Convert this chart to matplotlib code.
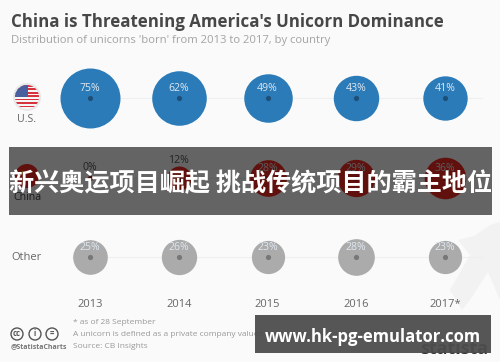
import numpy as np
import matplotlib
matplotlib.use("Agg")
import matplotlib.pyplot as plt
from matplotlib.patches import Circle, Rectangle, Polygon

years = ["2013", "2014", "2015", "2016", "2017*"]
countries = ["U.S.", "China", "Other"]
us = [75, 62, 49, 43, 41]
china = [0, 12, 28, 29, 36]
other = [25, 26, 23, 28, 23]

W, H = 500, 362
BG = "#fafafa"
BLUE = "#2b7bb9"
RED = "#f02c22"
GREY = "#ababab"
FONT = ["Open Sans", "DejaVu Sans"]
CJK = ["Noto Sans CJK SC", "DejaVu Sans"]

fig = plt.figure(figsize=(W / 100, H / 100), dpi=100, facecolor=BG)

# pixel layer for layout things, data layer for the bubbles
px = fig.add_axes([0, 0, 1, 1], zorder=1)
px.set_xlim(0, W)
px.set_ylim(H, 0)
px.axis("off")

x0, dx = 90, 88.75
y0, dy = 98, 79.5
ax = fig.add_axes([0, 0, 1, 1], zorder=2)
ax.patch.set_alpha(0)
ax.set_xlim(-x0 / dx, (W - x0) / dx)
ax.set_ylim((H - y0) / dy, -y0 / dy)
ax.axis("off")
ov = fig.add_axes([0, 0, 1, 1], zorder=3)
ov.patch.set_alpha(0)
ov.set_xlim(0, W)
ov.set_ylim(H, 0)
ov.axis("off")


def txt(a, x, y, s, size, color, weight="normal", ha="left", family=FONT):
  a.text(x, y, s, fontsize=size, color=color, fontweight=weight, ha=ha, va="center", family=family)


# unicorn watermark
px.add_patch(Polygon([(458, 240), (474, 236), (490, 225), (500, 222), (500, 300),
                      (488, 272), (470, 300), (462, 310), (450, 290), (470, 255)], fc="#f2f2f2", ec="none"))

txt(px, 11, 22, "China is Threatening America's Unicorn Dominance", 12.15, "#474747", "bold")
txt(px, 11, 40, "Distribution of unicorns 'born' from 2013 to 2017, by country", 8.1, "#a3a3a3")

# row guide lines
for r in range(3):
  ax.plot([-0.2, 4.42], [r, r], color="#efefef", lw=0.8, zorder=1)

rows = [(us, BLUE), (china, RED), (other, GREY)]
for r, (vals, col) in enumerate(rows):
  for i, v in enumerate(vals):
    d = 60 * np.sqrt(v / 75)  # diameter in px, area follows the value
    s = (d * 0.72) ** 2
    if v > 0:
      ax.scatter(i, r, s=s, color=col, linewidths=0, zorder=2)
    ax.scatter(i, r, s=14, color="#1d4f78" if r == 0 else ("#a01c14" if r == 1 else "#777777"),
               linewidths=0, zorder=3)
    if v >= 20:
      ax.annotate(f"{v}%", (i, r), xytext=(0, 6.5), textcoords="offset points", ha="center", va="center",
                  fontsize=7.6, color="#dfe8f0", family=FONT, zorder=4)
    else:
      off = 12.5 if v > 0 else 7
      ax.annotate(f"{v}%", (i, r), xytext=(0, off), textcoords="offset points", ha="center", va="center",
                  fontsize=7.6, color="#555555", family=FONT, zorder=4)

# flags
flag_x, flag_y = 27, 97
px.add_patch(Circle((flag_x, flag_y), 14, fc="#e8e8e8", ec="none"))
for k in range(7):
  st = px.add_patch(Rectangle((flag_x - 12, flag_y - 12 + k * 24 / 7), 24, 12 / 7, fc="#d8323c", ec="none"))
  st.set_clip_path(Circle((flag_x, flag_y), 12, transform=px.transData))
  st2 = px.add_patch(Rectangle((flag_x - 12, flag_y - 12 + (k + 0.5) * 24 / 7), 24, 12 / 7, fc="#f5f5f5", ec="none"))
  st2.set_clip_path(Circle((flag_x, flag_y), 12, transform=px.transData))
cn = px.add_patch(Rectangle((flag_x - 12, flag_y - 12), 13, 12, fc="#4a5f9e", ec="none"))
cn.set_clip_path(Circle((flag_x, flag_y), 12, transform=px.transData))

px.add_patch(Circle((27, 176), 12, fc=RED, ec="none"))
px.scatter([22], [172], s=14, marker="*", color="#e8c020", linewidths=0, zorder=5)

txt(px, 27, 120, countries[0], 7.6, "#666666", ha="center")
txt(px, 27, 198, countries[1], 7.6, "#444444", ha="center")
txt(px, 27, 257, countries[2], 8, "#666666", ha="center")

for i, y in enumerate(years):
  ax.annotate(y, (i, 2), xytext=(0, -34), textcoords="offset points", ha="center", va="center",
              fontsize=8, color="#666666", family=FONT)

# footer
for cx, lab in zip([17, 35, 52], ["cc", "i", "="]):
  px.add_patch(Circle((cx, 334), 6, fc="none", ec="#555555", lw=1))
  txt(px, cx, 334, lab, 5.5, "#555555", "bold", ha="center")
txt(px, 11, 347, "@StatistaCharts", 5, "#777777", "bold")
txt(px, 73, 323, "* as of 28 September", 6, "#999999")
txt(px, 73, 334, "A unicorn is defined as a private company valued at more than $1 billion USD", 6, "#999999")
txt(px, 73, 347, "Source: CB Insights", 6, "#999999")
txt(px, 420, 349, "statista", 13, "#333333", "bold")

# overlay bands
ov.add_patch(Rectangle((9, 147), 483, 68, fc="black", alpha=0.6, ec="none"))
ov.add_patch(Rectangle((255, 315), 236, 38, fc="#4d4d4d", alpha=0.95, ec="none"))
txt(ov, 250.5, 184, "新兴奥运项目崛起 挑战传统项目的霸主地位", 18.1, "white", "bold", ha="center", family=CJK)
txt(ov, 373, 337, "www.hk-pg-emulator.com", 12, "white", "bold", ha="center", family=FONT)

fig.savefig("out.png", dpi=100, facecolor=BG)
